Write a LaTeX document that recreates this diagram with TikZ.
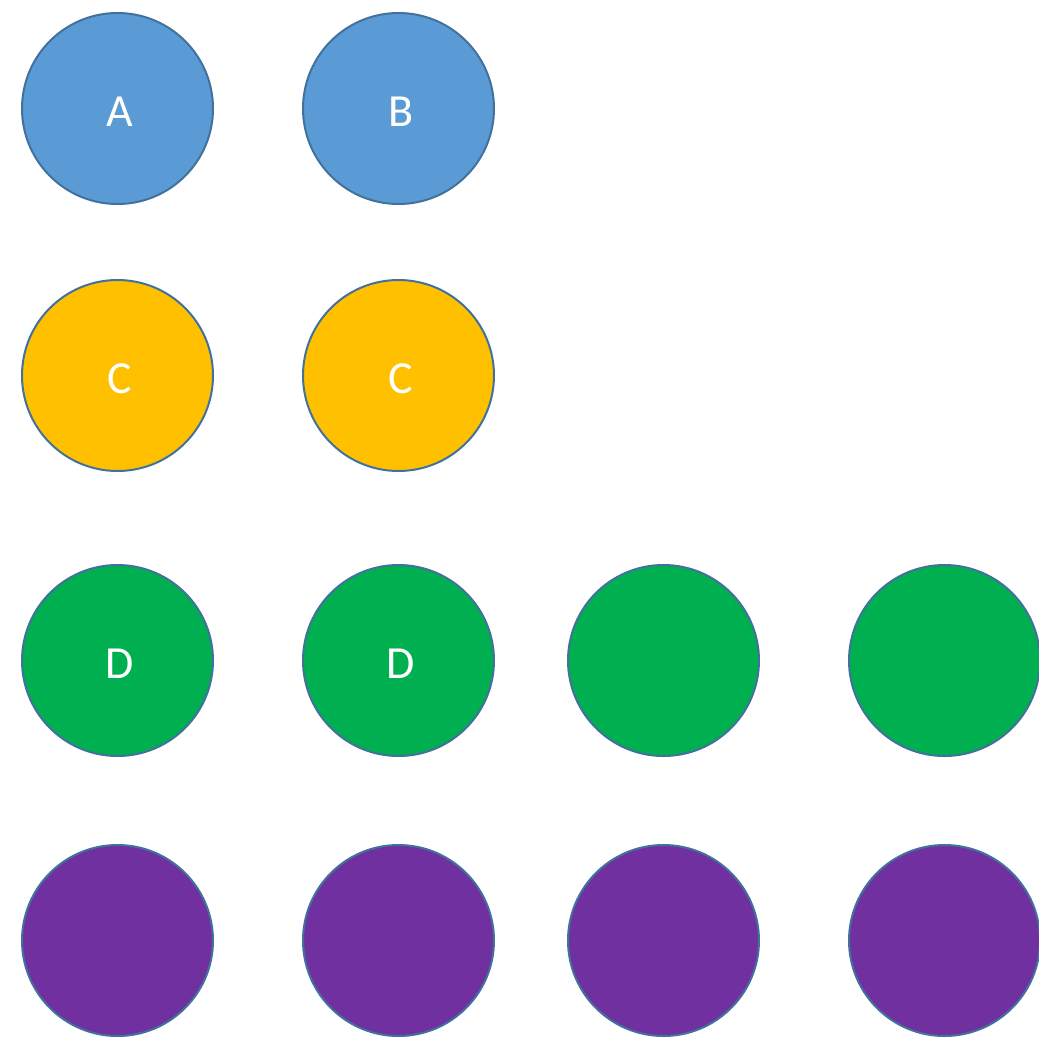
\documentclass[tikz,border=0pt]{standalone}
\usepackage{fontspec}
\setmainfont{Carlito}
\definecolor{cblue}{HTML}{5B9BD5}
\definecolor{cyellow}{HTML}{FFC000}
\definecolor{cgreen}{HTML}{00B050}
\definecolor{cpurple}{HTML}{7030A0}
\definecolor{cedge}{HTML}{41719C}
\tikzset{
  ball/.style={circle, draw=cedge, line width=2pt, minimum size=191pt, inner sep=0pt},
  balltext/.style={label={[text=white, font=\fontsize{46}{46}\selectfont, xshift=2.5pt, yshift=-3.5pt]center:#1}},
}
\begin{document}
\begin{tikzpicture}[x=1pt,y=-1pt]
\clip (0,0) rectangle (1039,1037);
\node[ball, fill=cblue, balltext=A] (a) at (117.5,108.5) {};
\node[ball, fill=cblue, balltext=B] (b) at (398.5,108.5) {};
\node[ball, fill=cyellow, balltext=C] (c1) at (117.5,375.5) {};
\node[ball, fill=cyellow, balltext=C] (c2) at (398.5,375.5) {};
\node[ball, fill=cgreen, balltext=D] (d1) at (117.5,660.5) {};
\node[ball, fill=cgreen, balltext=D] (d2) at (398.5,660.5) {};
\node[ball, fill=cgreen] (d3) at (663.5,660.5) {};
\node[ball, fill=cgreen] (d4) at (944.5,660.5) {};
\node[ball, fill=cpurple] (e1) at (117.5,940.5) {};
\node[ball, fill=cpurple] (e2) at (398.5,940.5) {};
\node[ball, fill=cpurple] (e3) at (663.5,940.5) {};
\node[ball, fill=cpurple] (e4) at (944.5,940.5) {};
\end{tikzpicture}
\end{document}
